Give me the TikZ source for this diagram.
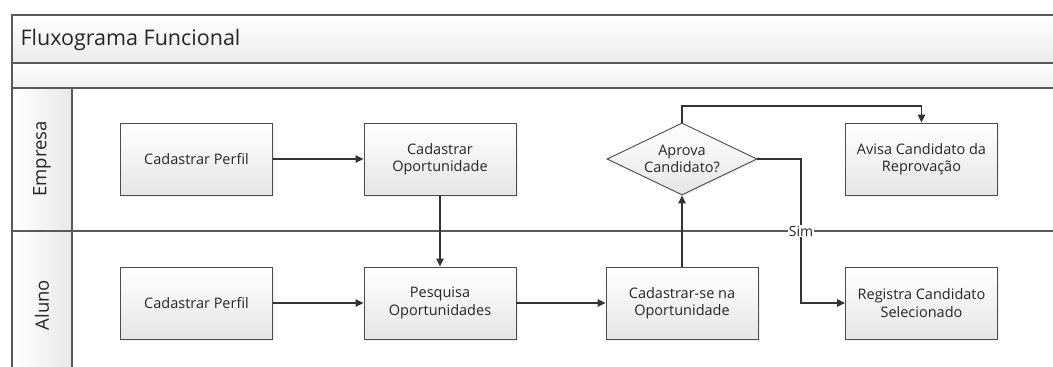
\documentclass[tikz,border=0pt]{standalone}
\usepackage{fontspec}
\setmainfont{Open Sans}
\usetikzlibrary{arrows.meta,shapes.geometric,shadows}

\tikzset{
  tarefa/.style={draw=black!70, line width=0.9pt, top color=white, bottom color=black!10,
    minimum width=152pt, minimum height=72pt, align=center,
    font=\fontsize{14.5}{17.5}\selectfont, text=black!85,
    drop shadow={opacity=0.12, shadow xshift=1.5pt, shadow yshift=-1.5pt}},
  decisao/.style={tarefa, diamond, aspect=2, inner sep=0pt,
    minimum width=150pt, minimum height=72pt},
  seta/.style={draw=black!80, line width=1.1pt, -{Triangle[length=8pt,width=7.5pt]}},
  raia/.style={draw=black!65, line width=1.1pt},
}

\begin{document}
\begin{tikzpicture}[x=1pt,y=-1pt]
\useasboundingbox (0,0) rectangle (1053,367);
\clip (0,0) rectangle (1053,367);

\fill[white] (0,0) rectangle (1053,367);

% cabecalho
\shade[top color=white, bottom color=black!8] (12,15) rectangle (1065,63);
\shade[top color=white, bottom color=black!6] (12,63) rectangle (1065,88);
\shade[left color=white, right color=black!9] (12,88) rectangle (72,380);
\draw[raia] (12,380) -- (12,15) -- (1065,15);
\draw[raia] (12,63) -- (1065,63);
\draw[raia] (12,88) -- (1065,88);
\draw[raia] (72,88) -- (72,380);
\draw[raia] (12,231) -- (1065,231);

\node[anchor=west, font=\fontsize{21.5}{25}\selectfont, text=black!85] (titulo) at (17,40) {Fluxograma Funcional};
\node[rotate=90, font=\fontsize{18.5}{22}\selectfont, text=black!85] (empresa) at (42,159) {Empresa};
\node[rotate=90, font=\fontsize{18.5}{22}\selectfont, text=black!85] (aluno) at (42,305) {Aluno};

% Empresa
\node[tarefa] (perfilE) at (196.5,159) {Cadastrar Perfil};
\node[tarefa] (oport) at (440,159) {Cadastrar\\Oportunidade};
\node[decisao] (aprova) at (682,159) {Aprova\\Candidato?};
\node[tarefa] (avisa) at (921.5,159) {Avisa Candidato da\\Reprovação};

% Aluno
\node[tarefa] (perfilA) at (196.5,303) {Cadastrar Perfil};
\node[tarefa] (pesquisa) at (440,303) {Pesquisa\\Oportunidades};
\node[tarefa] (inscreve) at (682,303) {Cadastrar-se na\\Oportunidade};
\node[tarefa] (registra) at (921.5,303) {Registra Candidato\\Selecionado};

\coordinate (volta) at (682,106);
\coordinate (desvio) at (801,159);

\draw[seta] (perfilE) -- (oport);
\draw[seta] (oport) -- (pesquisa);
\draw[seta] (perfilA) -- (pesquisa);
\draw[seta] (pesquisa) -- (inscreve);
\draw[seta] (inscreve) -- (aprova);
\draw[seta] (aprova.north) -- (volta) -| (avisa.north);
\draw[seta] (aprova.east) -- (desvio) |- (registra.west)
  node[pos=0.25, fill=white, inner sep=1pt, font=\fontsize{14}{16}\selectfont, text=black!85] (sim) {Sim};
\end{tikzpicture}
\end{document}
